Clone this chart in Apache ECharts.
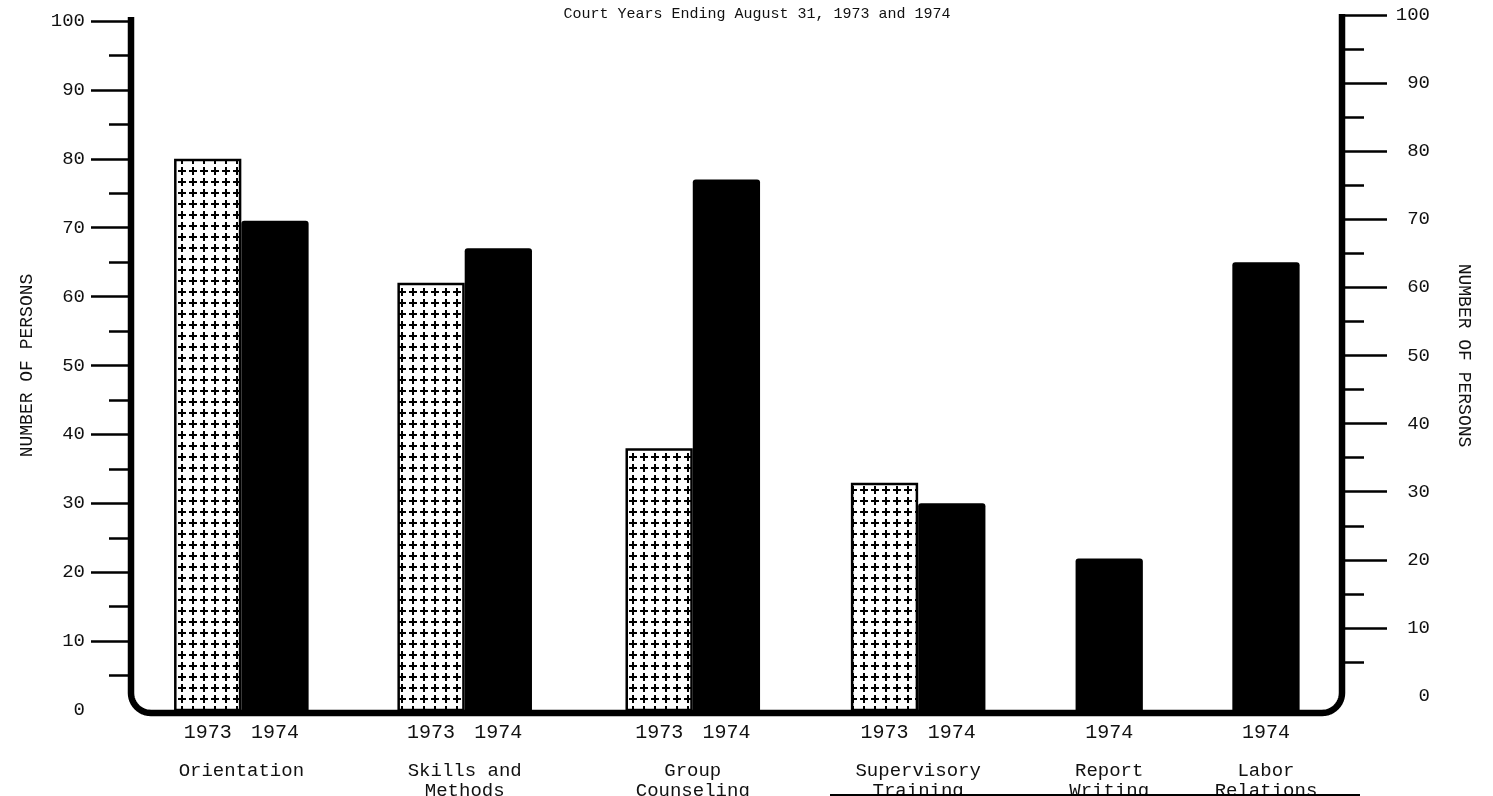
<!DOCTYPE html>
<html>
<head>
<meta charset="utf-8">
<script src="https://cdn.jsdelivr.net/npm/echarts@6/dist/echarts.min.js"></script>
<style>
  html, body { margin: 0; padding: 0; background: #ffffff; }
  #chart { width: 1493px; height: 796px; }
</style>
</head>
<body>
<div id="chart"></div>
<script>
// Persons trained per course, court years ending August 31, 1973 and 1974
const categories = ['Orientation', 'Skills and\nMethods', 'Group\nCounseling', 'Supervisory\nTraining', 'Report\nWriting', 'Labor\nRelations'];
const yearNames = ['1973', '1974'];
const persons1973 = [80, 62, 38, 33, null, null];
const persons1974 = [71, 67, 77, 30, 22, 65];
const majorTicks = [10, 20, 30, 40, 50, 60, 70, 80, 90, 100];
const minorTicks = [5, 15, 25, 35, 45, 55, 65, 75, 85, 95];

// Layout: centre of each course group on the hidden x scale (1 unit = 1 bar width)
const groupCenters = [1.64, 4.96, 8.35, 11.7, 14.54, 16.87];
const X_MAX = 18;

const FONT = '"Liberation Mono", "DejaVu Sans Mono", monospace';
const INK = '#111111';

// Dotted-cross fill used for the 1973 bars
function crossTile() {
  const c = document.createElement('canvas');
  c.width = 11; c.height = 11;
  const g = c.getContext('2d');
  g.fillStyle = '#000000';
  g.fillRect(2, 5, 8, 2);
  g.fillRect(5, 2, 2, 8);
  return c;
}
const crossPattern = { image: crossTile(), repeat: 'repeat' };

function hasPair(i) {
  return persons1973[i] != null && persons1974[i] != null;
}

function makeRenderer(yearIdx) {
  return function (params, api) {
    const i = api.value(0);
    const v = api.value(1);
    const shift = hasPair(i) ? (yearIdx === 0 ? -0.5 : 0.5) : 0;
    const cx = groupCenters[i] + shift;
    const tl = api.coord([cx - 0.5, v]);
    const br = api.coord([cx + 0.5, 0]);
    const mid = (tl[0] + br[0]) / 2;
    const children = [];
    if (yearIdx === 0) {
      children.push({
        type: 'rect',
        shape: { x: tl[0] + 1.25, y: tl[1] + 1.25, width: br[0] - tl[0] - 2.5, height: br[1] - tl[1] - 1.25 },
        style: { fill: crossPattern, stroke: '#000', lineWidth: 2.5 }
      });
    } else {
      children.push({
        type: 'rect',
        shape: { x: tl[0], y: tl[1], width: br[0] - tl[0], height: br[1] - tl[1], r: [3, 3, 0, 0] },
        style: { fill: '#000' }
      });
    }
    // year under each bar
    children.push({
      type: 'text',
      style: {
        text: yearNames[yearIdx], x: mid, y: br[1] + 23,
        align: 'center', verticalAlign: 'middle',
        font: '20px ' + FONT, fill: INK
      }
    });
    // course name under the group (drawn once, with the 1974 series)
    if (yearIdx === 1) {
      const gc = api.coord([groupCenters[i], 0]);
      children.push({
        type: 'text',
        style: {
          text: categories[i], x: gc[0], y: br[1] + 51,
          align: 'center', verticalAlign: 'top', lineHeight: 20,
          font: '19px ' + FONT, fill: INK
        }
      });
    }
    return { type: 'group', children: children };
  };
}

const chart = echarts.init(document.getElementById('chart'), null, { renderer: 'canvas' });

const tickStyle = { color: '#000', width: 2.5 };

// tick-only axis helper
function tickAxis(gridIndex, position, values, length) {
  return {
    type: 'value', gridIndex: gridIndex, position: position, min: 0, max: 100,
    axisLine: { show: false },
    axisTick: { show: true, length: length, lineStyle: tickStyle, customValues: values },
    axisLabel: { show: false },
    splitLine: { show: false }
  };
}

chart.setOption({
  backgroundColor: '#ffffff',
  animation: false,
  title: {
    text: 'Court Years Ending August 31, 1973 and 1974',
    left: 752, top: 2, textAlign: 'center',
    textStyle: { fontFamily: FONT, fontSize: 15, fontWeight: 'normal', color: INK }
  },
  grid: [
    { left: 131, right: 151, top: 21, bottom: 86 },
    { left: 131, right: 151, top: 15, bottom: 100 }
  ],
  xAxis: [
    { type: 'value', gridIndex: 0, min: 0, max: X_MAX, show: false },
    { type: 'value', gridIndex: 1, min: 0, max: 1, show: false }
  ],
  yAxis: [
    {
      type: 'value', gridIndex: 0, position: 'left', min: 0, max: 100, interval: 10,
      name: 'NUMBER OF PERSONS', nameLocation: 'middle', nameGap: 95, nameRotate: 90,
      nameTextStyle: { fontFamily: FONT, fontSize: 18, color: INK },
      axisLine: { show: false },
      axisTick: { show: true, length: 40, lineStyle: tickStyle, customValues: majorTicks },
      axisLabel: { margin: 46, fontFamily: FONT, fontSize: 19, color: INK },
      splitLine: { show: false }
    },
    tickAxis(0, 'left', minorTicks, 22),
    {
      type: 'value', gridIndex: 1, position: 'right', min: 0, max: 100, interval: 10,
      name: 'NUMBER OF PERSONS', nameLocation: 'middle', nameGap: 113, nameRotate: -90,
      nameTextStyle: { fontFamily: FONT, fontSize: 18, color: INK },
      axisLine: { show: false },
      axisTick: { show: false },
      axisLabel: { margin: 88, align: 'right', fontFamily: FONT, fontSize: 19, color: INK },
      splitLine: { show: false }
    },
    tickAxis(1, 'right', majorTicks, 45),
    tickAxis(1, 'right', minorTicks, 22)
  ],
  series: [
    {
      name: '1973', type: 'custom', xAxisIndex: 0, yAxisIndex: 0, clip: false,
      renderItem: makeRenderer(0),
      data: persons1973.map((v, i) => [i, v]).filter(d => d[1] != null)
    },
    {
      name: '1974', type: 'custom', xAxisIndex: 0, yAxisIndex: 0, clip: false,
      renderItem: makeRenderer(1),
      data: persons1974.map((v, i) => [i, v]).filter(d => d[1] != null)
    }
  ]
});

// Heavy frame: left axis, bottom rule and right axis with rounded lower corners
function cornerPoints(cx, cy, r, a0, a1) {
  const pts = [];
  const n = 12;
  for (let k = 0; k <= n; k++) {
    const a = a0 + (a1 - a0) * k / n;
    pts.push([cx + r * Math.cos(a), cy + r * Math.sin(a)]);
  }
  return pts;
}
function drawFrame() {
  const xL = chart.convertToPixel({ xAxisIndex: 0 }, 0);
  const xR = chart.convertToPixel({ xAxisIndex: 0 }, X_MAX);
  const yTopL = chart.convertToPixel({ yAxisIndex: 0 }, 100) - 4;
  const yTopR = chart.convertToPixel({ yAxisIndex: 2 }, 100) - 1;
  const yb = chart.convertToPixel({ yAxisIndex: 0 }, 0) + 3;
  const r = 20;
  const pts = [[xL, yTopL]]
    .concat(cornerPoints(xL + r, yb - r, r, Math.PI, Math.PI / 2))
    .concat(cornerPoints(xR - r, yb - r, r, Math.PI / 2, 0))
    .concat([[xR, yTopR]]);
  chart.setOption({
    graphic: [
      {
        type: 'polyline', z: 5, silent: true,
        shape: { points: pts },
        style: { fill: null, stroke: '#000', lineWidth: 6.5, lineJoin: 'round' }
      },
      {
        type: 'line', z: 5, silent: true,
        shape: { x1: 830, y1: 795, x2: 1360, y2: 795 },
        style: { stroke: '#000', lineWidth: 2 }
      }
    ]
  });
}
drawFrame();
</script>
</body>
</html>
